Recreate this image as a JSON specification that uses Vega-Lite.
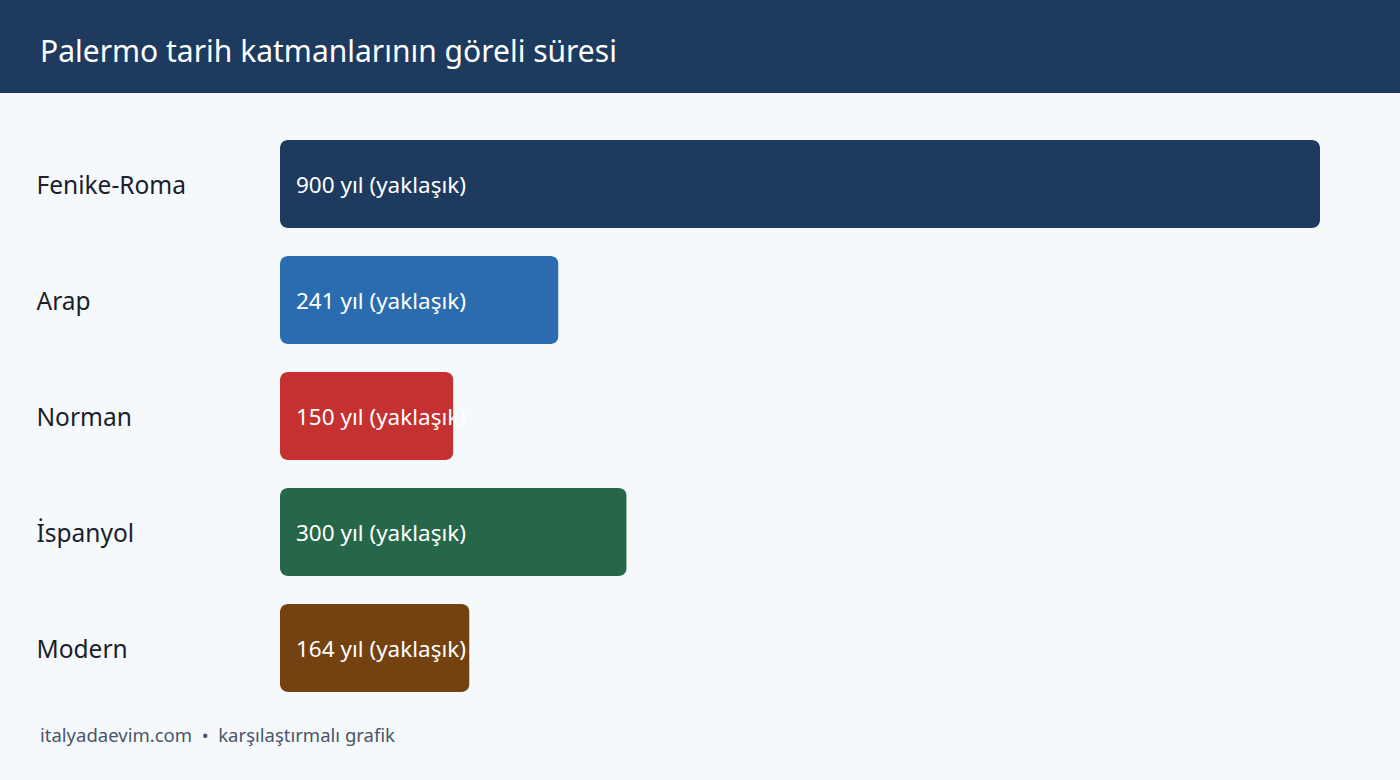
{
  "$schema": "https://vega.github.io/schema/vega-lite/v6.json",
  "background": "#f5f9fc",
  "padding": 0,
  "spacing": 0,
  "config": {
    "font": "Noto Sans",
    "view": {"stroke": null},
    "concat": {"spacing": 0}
  },
  "vconcat": [
    {
      "width": 1400,
      "height": 93,
      "view": {"fill": "#1e3a5f", "stroke": null},
      "data": {"values": [{"label": "Palermo tarih katmanlarının göreli süresi"}]},
      "mark": {"type": "text", "align": "left", "baseline": "middle", "fontSize": 30, "color": "#ffffff"},
      "encoding": {
        "text": {"field": "label"},
        "x": {"value": 40},
        "y": {"value": 53}
      }
    },
    {
      "width": 1400,
      "height": 619,
      "data": {
        "values": [
          {"donem": "Fenike-Roma", "yil": 900, "etiket": "900 yıl (yaklaşık)", "renk": "#1e3a5f"},
          {"donem": "Arap", "yil": 241, "etiket": "241 yıl (yaklaşık)", "renk": "#2b6cb0"},
          {"donem": "Norman", "yil": 150, "etiket": "150 yıl (yaklaşık)", "renk": "#c53030"},
          {"donem": "İspanyol", "yil": 300, "etiket": "300 yıl (yaklaşık)", "renk": "#276749"},
          {"donem": "Modern", "yil": 164, "etiket": "164 yıl (yaklaşık)", "renk": "#744210"}
        ]
      },
      "encoding": {
        "y": {
          "field": "donem",
          "type": "nominal",
          "sort": null,
          "scale": {"paddingInner": 0.2414, "paddingOuter": 0.2888, "align": 0.7015},
          "axis": {
            "title": null,
            "domain": false,
            "ticks": false,
            "labelAlign": "left",
            "labelPadding": -36,
            "labelOffset": 3,
            "labelFontSize": 24.5,
            "labelColor": "#1a202c",
            "minExtent": 0,
            "maxExtent": 0
          }
        }
      },
      "layer": [
        {
          "mark": {"type": "bar", "cornerRadius": 8},
          "encoding": {
            "x": {
              "field": "yil",
              "type": "quantitative",
              "scale": {"domain": [0, 900], "nice": false, "range": [280, 1320]},
              "axis": null
            },
            "color": {"field": "renk", "type": "nominal", "scale": null, "legend": null}
          }
        },
        {
          "mark": {"type": "text", "align": "left", "baseline": "middle", "dx": 16, "dy": 2, "fontSize": 22.5, "color": "#ffffff"},
          "encoding": {
            "x": {"datum": 0, "type": "quantitative"},
            "text": {"field": "etiket"}
          }
        }
      ]
    },
    {
      "width": 1400,
      "height": 68,
      "data": {"values": [{"label": "italyadaevim.com\u00a0\u00a0•\u00a0\u00a0karşılaştırmalı grafik"}]},
      "mark": {"type": "text", "align": "left", "baseline": "middle", "fontSize": 18.5, "color": "#4a5568"},
      "encoding": {
        "text": {"field": "label"},
        "x": {"value": 40},
        "y": {"value": 24}
      }
    }
  ]
}
